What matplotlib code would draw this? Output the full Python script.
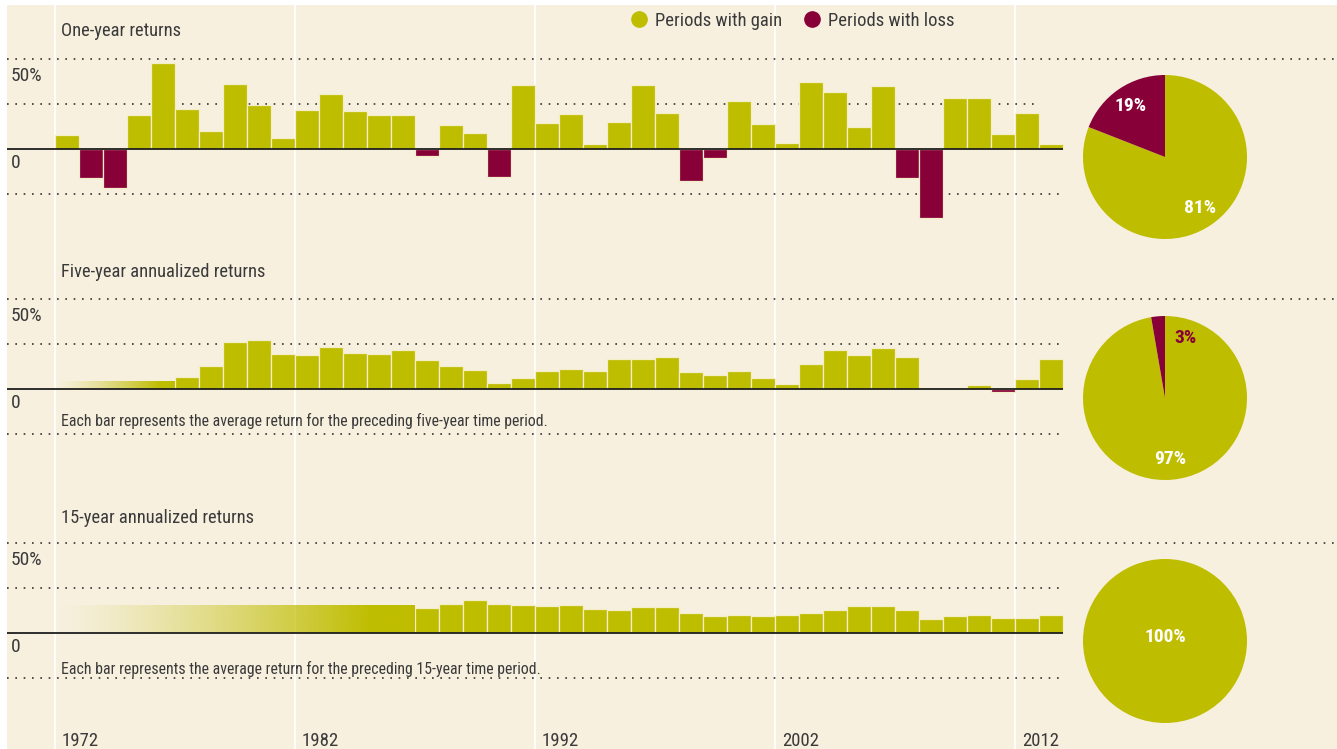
import matplotlib
matplotlib.use('Agg')
import matplotlib.pyplot as plt
import numpy as np
from matplotlib import font_manager
from matplotlib.lines import Line2D

# ---- data ----
years = list(range(1972, 2014))
one_year = [8.2, -16.0, -21.7, 19.3, 47.8, 22.5, 10.2, 36.1, 24.5, 6.1,
            21.7, 30.7, 21.0, 19.1, 19.1, -3.7, 13.4, 8.9, -15.6, 35.7,
            14.5, 19.7, 3.2, 15.2, 35.5, 20.4, -17.5, -4.6, 26.6, 13.9,
            3.7, 37.4, 31.6, 12.5, 35.3, -15.8, -37.9, 28.3, 28.3, 8.4,
            19.9, 3.0]
five_year_start = 1977
five_year = [7.1, 13.2, 26.3, 27.6, 19.4, 19.2, 23.3, 20.3, 19.4, 22.0,
             16.5, 13.2, 10.9, 3.4, 6.2, 10.0, 11.3, 10.2, 17.1, 16.9,
             18.2, 9.6, 7.9, 10.0, 6.2, 3.0, 14.3, 22.0, 19.0, 23.1,
             18.0, 0.8, 0.2, 2.6, -1.7, 5.5, 16.7]
fifteen_year_start = 1987
fifteen_year = [14.1, 16.1, 18.7, 16.1, 15.6, 15.0, 15.6, 13.5, 13.0, 14.6,
                14.6, 11.1, 9.4, 10.0, 9.4, 10.2, 11.5, 13.0, 15.0, 15.0,
                12.8, 8.0, 9.4, 10.2, 8.7, 8.7, 10.2]
# faded placeholder bars before the first full period
five_gap_height = 4.3
fifteen_gap_height = 15.2
decade_years = [1972, 1982, 1992, 2002, 2012]

titles = ['One-year returns', 'Five-year annualized returns', '15-year annualized returns']
notes = [None,
         'Each bar represents the average return for the preceding five-year time period.',
         'Each bar represents the average return for the preceding 15-year time period.']

# ---- style ----
CREAM = '#F7F0DF'
GAIN = '#BFBD00'
LOSS = '#870037'
TEXT = '#3a3a3a'
W, H = 1337, 749
PX_PER_PCT = 1.8
X0, X_END = 1970, 1972 + (W - 55) / 24

# look for a narrow / condensed face, the original uses a condensed grotesque
entries = font_manager.fontManager.ttflist
FONT, STRETCH, SCALE = None, 'normal', 1.0
for want in ['Liberation Sans Narrow', 'Roboto Condensed', 'Open Sans Condensed',
             'Noto Sans Condensed', 'DejaVu Sans Condensed']:
    if any(f.name == want for f in entries):
        FONT = want
        break
if FONT is None:
    cond = [f for f in entries if 'condensed' in str(f.stretch) and f.weight in (400, 'normal', 'regular')]
    cond += [f for f in entries if 'condensed' in str(f.stretch)]
    if cond:
        FONT, STRETCH = cond[0].name, cond[0].stretch
if FONT is None:
    FONT, SCALE = 'Liberation Sans', 0.92
plt.rcParams['font.family'] = [FONT, 'DejaVu Sans']
plt.rcParams['font.stretch'] = STRETCH


def fs(size):
    return size * SCALE


def fig_rect(left, top, right, bottom):
    return [left / W, 1 - bottom / H, (right - left) / W, (bottom - top) / H]


fig = plt.figure(figsize=(W / 100, H / 100), dpi=100, facecolor='white')

bg = fig.add_axes(fig_rect(7, 5, W, H))
bg.set_facecolor(CREAM)
bg.set_xlim(X0, X_END)
bg.set_ylim(H, 5)
for s in bg.spines.values():
    s.set_visible(False)
bg.set_xticks([])
bg.set_yticks([])
for yr in decade_years:
    bg.axvline(yr, color='white', lw=1.3, zorder=0)
    bg.annotate(str(yr), xy=(yr, 746), xytext=(5, 0), textcoords='offset points',
                ha='left', va='baseline', fontsize=fs(13.5), color=TEXT)

title_base = [36, 277, 523]
note_base = [None, 426, 674]
for t, yb, n, nb in zip(titles, title_base, notes, note_base):
    bg.annotate(t, xy=(1972, yb), xytext=(4.5, 0), textcoords='offset points',
                ha='left', va='baseline', fontsize=fs(13.3), color=TEXT)
    if n:
        bg.annotate(n, xy=(1972, nb), xytext=(4.5, 0), textcoords='offset points',
                    ha='left', va='baseline', fontsize=fs(11.4), color=TEXT)


def gradient(ax, start, end, height):
    t = np.linspace(0, 1, 256)
    alpha = np.clip(t / 0.88, 0, 1) ** 1.3
    rgba = np.zeros((1, 256, 4))
    rgba[..., :3] = matplotlib.colors.to_rgb(GAIN)
    rgba[..., 3] = alpha
    ax.imshow(rgba, extent=(start, end, 0, height), aspect='auto',
              interpolation='bilinear', zorder=2)


def bar_panel(zero_px, ymin, start, values, gap=None, lower_end=2014):
    top = zero_px - 50 * PX_PER_PCT
    bottom = zero_px - ymin * PX_PER_PCT
    ax = fig.add_axes(fig_rect(7, top, W, bottom))
    ax.patch.set_alpha(0)
    dots = dict(colors='#333333', linestyles=(0, (1, 4)), lw=1.2, zorder=1, clip_on=False)
    ax.hlines(50, X0, X_END, **dots)
    ax.hlines(25, X0, lower_end, **dots)
    ax.hlines(-25, X0, 2014, **dots)
    xs = years[years.index(start):]
    cols = [GAIN if v >= 0 else LOSS for v in values]
    ax.bar(xs, values, width=1, align='edge', color=cols,
           edgecolor='#F3EDC8', linewidth=0.9, zorder=2)
    if gap:
        gradient(ax, 1972, start, gap)
    ax.hlines(0, X0, 2014, colors='#1e1e1e', lw=1.3, zorder=3)
    ax.annotate('50%', xy=(X0, 50), xytext=(2.5, -5.5), textcoords='offset points',
                ha='left', va='top', fontsize=fs(14), color=TEXT)
    ax.annotate('0', xy=(X0, 0), xytext=(2.5, -3.5), textcoords='offset points',
                ha='left', va='top', fontsize=fs(14), color=TEXT)
    ax.set_xlim(X0, X_END)
    ax.set_ylim(ymin, 50)
    ax.axis('off')
    return ax


bar_panel(149.3, -40, 1972, one_year, lower_end=2013)
bar_panel(389.3, -30, five_year_start, five_year, gap=five_gap_height)
bar_panel(633.3, -30, fifteen_year_start, fifteen_year, gap=fifteen_gap_height)


def pie_panel(cy, values):
    gains = sum(v >= 0 for v in values)
    losses = len(values) - gains
    ax = fig.add_axes(fig_rect(1165 - 82, cy - 82, 1165 + 82, cy + 82))
    vals = [gains, losses] if losses else [gains]
    wedges, _, autotexts = ax.pie(vals, colors=[GAIN, LOSS][:len(vals)], startangle=90,
                                  counterclock=False, radius=1, autopct='%.0f%%',
                                  pctdistance=0.75, wedgeprops=dict(linewidth=0),
                                  textprops=dict(color='white', weight='bold', fontsize=fs(14)))
    if not losses:
        autotexts[0].set_position((0, 0.05))
    elif losses / len(values) < 0.05:
        autotexts[1].set_position((0.25, 0.73))
        autotexts[1].set_color(LOSS)
    ax.set_xlim(-1, 1)
    ax.set_ylim(-1, 1)
    return ax


pie_panel(157, one_year)
pie_panel(398, five_year)
pie_panel(641, fifteen_year)

handles = [Line2D([], [], marker='o', ls='', markersize=11, color=GAIN),
           Line2D([], [], marker='o', ls='', markersize=11, color=LOSS)]
leg = fig.legend(handles, ['Periods with gain', 'Periods with loss'], loc='center',
                 bbox_to_anchor=(793 / W, 1 - 21 / H), ncol=2, frameon=False,
                 fontsize=fs(13.4), handlelength=0.8, handletextpad=0.45, columnspacing=1.2)
for t in leg.get_texts():
    t.set_color(TEXT)

fig.savefig('out.png', dpi=100, facecolor=fig.get_facecolor())
